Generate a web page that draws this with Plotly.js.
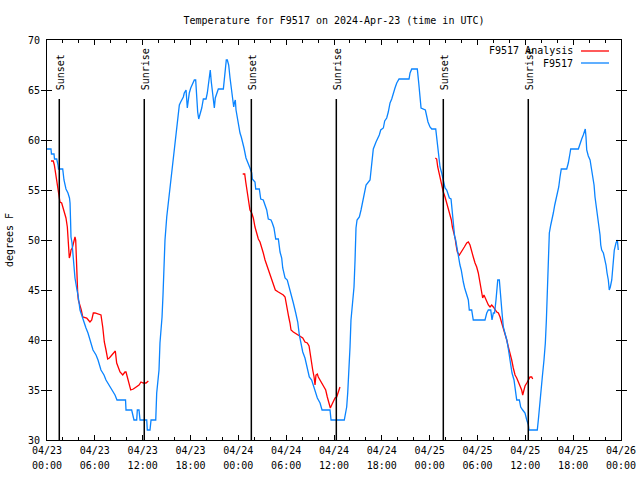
<!DOCTYPE html>
<html>
<head>
<meta charset="utf-8">
<script src="https://cdn.plot.ly/plotly-3.0.1.min.js"></script>
<style>html,body{margin:0;padding:0;background:#fff;}#chart{width:640px;height:480px;}</style>
</head>
<body>
<div id="chart"></div>
<script>
// Hours since 2024-04-23 00:00 UTC
const stationHours = [0,0.50,0.56,0.88,0.94,1.22,1.38,1.44,1.97,2.13,2.38,2.63,2.82,2.89,2.95,3.01,3.14,3.26,3.39,3.51,3.76,3.89,4.14,4.52,4.89,5.14,5.39,5.77,6.15,6.40,6.77,7.15,7.40,7.78,8.15,8.53,8.78,9.85,9.91,10.62,10.91,11.25,11.33,11.54,11.67,12.51,12.58,12.92,13.05,13.64,13.76,14.05,14.17,14.30,14.43,14.55,14.64,14.80,15.02,15.22,15.43,15.77,15.93,16.14,16.31,16.47,16.60,16.77,16.97,17.10,17.22,17.44,17.60,17.72,17.85,18.03,18.28,18.48,18.65,18.78,18.90,19.03,19.19,19.41,19.61,19.95,20.11,20.23,20.36,20.48,20.61,20.74,20.86,20.99,21.11,21.29,21.49,22.12,22.24,22.37,22.49,22.62,22.79,22.96,23.12,23.29,23.42,23.50,23.62,23.71,23.87,24.05,24.21,24.37,24.55,24.71,24.96,25.25,25.46,25.68,25.75,26.09,26.18,26.63,26.81,27.13,27.35,27.56,27.76,28.10,28.26,28.47,28.69,29.02,29.23,29.44,29.57,29.86,30.14,30.39,30.61,30.90,31.20,31.45,31.65,31.82,32.08,32.36,32.65,32.90,33.20,33.62,33.91,34.25,34.50,35.50,35.63,37.29,37.47,37.59,37.72,37.88,38.01,38.13,38.35,38.51,38.64,38.76,38.89,39.18,39.39,39.64,40.02,40.52,40.81,40.93,41.27,41.48,41.68,41.86,42.19,42.36,42.61,42.81,43.03,43.24,43.44,43.65,43.87,44.16,45.41,45.54,45.75,46.45,46.63,46.79,46.92,47.46,47.63,47.79,48.04,48.26,48.76,48.88,49.01,49.14,49.30,49.51,49.71,49.93,50.14,50.34,50.47,50.68,50.80,50.96,51.14,51.26,51.39,51.51,51.64,51.80,51.96,52.09,52.22,52.39,52.56,52.72,52.85,52.97,53.27,53.47,54.94,55.16,55.36,55.66,55.82,55.99,56.14,56.32,56.45,56.54,56.74,56.91,57.08,57.24,57.45,57.67,57.83,57.99,58.17,58.33,58.58,58.83,58.92,59.25,59.42,59.67,59.96,60.18,60.38,60.46,61.50,61.63,61.76,61.97,62.13,62.34,62.51,62.64,62.76,62.81,62.94,63.01,63.19,63.35,63.51,63.69,63.85,64.01,64.19,64.35,64.51,65.19,65.39,65.61,65.69,66.65,66.86,67.07,67.27,67.40,67.52,67.61,67.70,67.90,68.12,68.28,68.46,68.62,68.74,68.87,68.99,69.12,69.24,69.37,69.46,69.58,69.79,69.96,70.12,70.25,70.41,70.53,70.66,70.84,71.00,71.16,71.37,71.54,71.66];
const stationTemp = [59.1,59.1,58.6,58.6,58.1,58.1,57.5,57.1,57.1,56,55.1,54.7,54.2,53.7,52.1,50.3,49.7,48.5,47.5,46.2,45,44.5,43,42,41.2,40.7,40,39,38.5,38,37,36.5,36,35.5,35,34.5,34,34,33,33,32,32,33,33,32,32,31,31,32,32,34.7,37,39.7,41,42.3,44.5,46.7,50,52.3,53.7,55.7,57.5,58.7,60.7,61.7,62.7,63.5,63.8,64.1,64.3,64.7,65,63.2,64,64.7,65.2,65.7,66,66,64.2,62.8,62.1,62.5,63.2,64.1,64.1,64.7,65.7,66.5,67,65.8,65,63.8,63.2,64.2,64.7,65.1,65.1,66,66.7,68,68,67.5,66.2,65,64,63.3,63.7,64,63,62.2,61.2,60.7,60.3,59.8,59.2,58.2,57.7,57.2,56.7,56.1,55.8,55.1,55.1,54.1,54,53.5,53,52.1,52,51.7,51.2,50.1,50.1,48.8,48.2,47.2,46.2,46,45.3,44.7,43.7,42.7,41.8,40.5,39.7,38.8,38.2,37.3,36.3,36,35,34.2,33.7,33,33,32,32,32.7,33.3,34.7,36.7,39.3,42,44,45.3,48,51.2,52,52.3,53,54,55.5,56,58.2,59.1,59.8,60.1,60.5,61,61.2,61.9,62.2,62.8,63.7,64.1,64.7,65.2,65.7,66.1,66.1,66.7,67.1,67.1,65.7,63.8,63.2,63,62.3,61.8,61.3,61.1,61.1,60.3,59.5,58.4,57.3,56.7,56,55.2,55,54.5,54.2,54.1,53,51.3,50.3,50,49.3,48.7,48.2,47.5,47,46.3,45.8,45.2,44.7,44.2,44,43,43,42,42,42.7,43,43,42,42.7,42.7,44,45.3,46,46,44.7,42.7,41.3,40.7,40,39.3,38.3,37.3,36.7,36,34.7,34,34,33.3,33,32.7,32,31.5,31,31,32,33.3,35,36.3,38,39.7,42,44.5,47.3,49.5,50.7,51.5,52,52.7,53.5,54,54.5,55.3,56.3,57.1,57.1,57.7,58.7,59.1,59.1,59.7,60.1,60.5,60.8,61.1,60.3,59,58.4,58,57.2,56.3,55.5,54.3,53.5,52.5,52,51.5,50.5,49.5,49,48.7,48.2,47.5,46.7,46,45,45.3,46,47.3,49,49.7,50,49];

const analysisHours1 = [0.50,0.79,0.92,1.04,1.17,1.34,1.47,1.63,1.84,2.04,2.22,2.38,2.55,2.67,2.80,2.92,3.01,3.17,3.35,3.51,3.60,3.73,3.85,3.93,4.05,4.30,4.48,4.98,5.18,5.39,5.61,5.81,6.02,6.31,6.77,6.99,7.19,7.40,7.61,7.82,8.12,8.40,8.57,8.74,8.94,9.16,9.50,9.78,9.91,10.12,10.29,10.50,10.83,11.25,11.54,11.79,12.08,12.42,12.71];
const analysisTemp1 = [57.9,57.9,57.5,56.8,56.2,55.3,54.2,53.8,53.7,53.2,52.7,52.2,51.3,49.2,48.2,48.5,49,49.2,49.8,50.3,50,46.3,44.7,44,43.7,43,42.3,42.2,42,41.8,42,42.7,42.7,42.6,42.5,41.3,39.8,39,38.1,38.2,38.5,38.8,38.9,37.7,37.2,36.8,36.5,36.8,36.8,36.2,35.5,35,35.1,35.3,35.5,35.8,35.7,35.7,35.9];
const analysisHours2 = [24.55,24.80,24.93,25.05,25.18,25.30,25.46,25.68,25.88,26.09,26.31,26.51,26.72,26.93,27.13,27.35,27.56,27.76,27.97,28.19,28.39,28.64,29.02,29.23,29.64,29.86,29.98,30.14,30.32,30.48,30.61,30.90,31.32,31.74,32.08,32.36,32.65,32.87,32.99,33.20,33.33,33.50,33.62,33.74,33.91,34.03,34.25,34.46,34.75,34.96,35.16,35.37,35.54,35.71,35.91,36.13,36.34,36.54,36.75];
const analysisTemp2 = [56.6,56.6,55.8,55.2,54.5,53.8,53,52.7,52.2,51.3,50.7,50.1,49.8,49.3,48.7,48,47.5,47.2,46.7,46,45.5,45,44.8,44.7,44.5,44.3,43.7,43,42.3,41.7,41,40.8,40.6,40.4,40.2,39.8,39.7,39.4,38.7,37.7,37,36.3,35.5,36.5,36.6,36.3,36,35.7,35.4,35,34.3,33.7,33.2,33.5,33.8,34.2,34.3,34.7,35.3];
const analysisHours3 = [48.71,48.88,49.01,49.17,49.39,49.55,49.71,49.93,50.14,50.34,50.55,50.72,50.85,51.02,51.19,51.31,51.47,51.72,51.90,52.10,52.35,52.65,52.85,53.06,53.27,53.47,53.69,53.90,54.10,54.31,54.52,54.65,54.81,54.98,55.16,55.36,55.57,55.78,55.99,56.21,56.42,56.62,56.83,57.04,57.24,57.45,57.67,57.87,58.08,58.29,58.49,58.71,58.92,59.12,59.33,59.54,59.67,59.80,59.96,60.18,60.38,60.59,60.80,60.92];
const analysisTemp3 = [58.2,58.1,57.3,56.7,56,55.3,54.8,54.3,53.7,53,52.5,52,51.3,50.8,50.2,49.5,48.8,48.5,48.7,49,49.3,49.7,49.8,49.5,49,48.3,47.7,47.3,46.7,45.8,44.7,44.2,44.5,44.2,43.8,43.5,43.3,43.5,43.3,43,42.8,42.7,42.3,41.7,41.2,40.5,40,39.3,38.7,38,37.2,36.5,36.2,35.8,35.4,35,34.5,35,35.4,35.7,36,36.3,36.3,36.1];

const sunHours = [1.54, 12.20, 25.63, 36.29, 49.71, 60.37];
const sunLabels = ["Sunset", "Sunrise", "Sunset", "Sunrise", "Sunset", "Sunrise"];
const seriesNames = ["F9517 Analysis", "F9517"];

const BASE = Date.UTC(2024, 3, 23, 0, 0, 0);
const toMs = h => BASE + h * 3600000;

const aX = [].concat(analysisHours1.map(toMs), [null], analysisHours2.map(toMs), [null], analysisHours3.map(toMs));
const aY = [].concat(analysisTemp1, [null], analysisTemp2, [null], analysisTemp3);

const FONT = "DejaVu Sans Mono, monospace";
const RED = "#ff0000", BLUE = "#0a84ff";

const traces = [
  {x: aX, y: aY, type: "scatter", mode: "lines", name: seriesNames[0], line: {color: RED, width: 1.3}, connectgaps: false, hoverinfo: "skip"},
  {x: stationHours.map(toMs), y: stationTemp, xaxis: "x2", yaxis: "y", type: "scatter", mode: "lines", name: seriesNames[1], line: {color: BLUE, width: 1.3}, hoverinfo: "skip"}
];

const shapes = sunHours.map(h => ({type: "line", xref: "x", yref: "y", x0: toMs(h), x1: toMs(h), y0: 30, y1: 64.1, line: {color: "#000", width: 1.5}}));
const annotations = sunHours.map((h, i) => ({x: toMs(h), y: 64.8, xref: "x", yref: "y", text: sunLabels[i], textangle: -90, showarrow: false, xanchor: "center", yanchor: "bottom", xshift: 1, font: {family: FONT, size: 10, color: "#000"}}));

// gnuplot-style legend: text then sample line
const legendRows = [0.9725, 0.9425];
[RED, BLUE].forEach((c, i) => {
  annotations.push({xref: "paper", yref: "paper", x: 0.9199, y: legendRows[i], text: seriesNames[i], showarrow: false, xanchor: "right", yanchor: "middle", font: {family: FONT, size: 10, color: "#000"}});
  shapes.push({type: "line", xref: "paper", yref: "paper", x0: 0.9303, x1: 0.9791, y0: legendRows[i], y1: legendRows[i], line: {color: c, width: 1.3}});
});

const xRange = [toMs(0), toMs(72)];
const tickFont = {family: FONT, size: 10, color: "#000"};

const layout = {
  width: 640, height: 480,
  margin: {l: 47, r: 19, t: 40, b: 40, pad: 0},
  paper_bgcolor: "#fff", plot_bgcolor: "#fff",
  font: {family: FONT, size: 10, color: "#000"},
  showlegend: false,
  title: {text: "Temperature for F9517 on 2024-Apr-23 (time in UTC)", x: 0.5, xref: "paper", xanchor: "center", y: 0.958, yref: "container", yanchor: "middle", font: {family: FONT, size: 10, color: "#000"}},
  xaxis: {
    type: "date", range: xRange, autorange: false,
    dtick: 21600000, tick0: toMs(0), tickformat: "%m/%d",
    ticks: "inside", ticklen: 5, tickcolor: "#000", tickwidth: 1, ticklabelstandoff: 1,
    minor: {dtick: 7200000, ticks: "inside", ticklen: 3, tickcolor: "#000", showgrid: false},
    showline: true, linecolor: "#000", linewidth: 1, mirror: "allticks",
    showgrid: false, zeroline: false, automargin: false,
    tickfont: tickFont
  },
  xaxis2: {
    type: "date", range: xRange, autorange: false, overlaying: "x", anchor: "y", side: "bottom",
    dtick: 21600000, tick0: toMs(0), tickformat: "%H:%M",
    ticks: "", showline: false, showgrid: false, zeroline: false, automargin: false,
    ticklabelstandoff: 18, tickfont: tickFont
  },
  yaxis: {
    range: [30, 70], autorange: false, dtick: 5, tick0: 30,
    ticks: "inside", ticklen: 5, tickcolor: "#000", tickwidth: 1,
    showline: true, linecolor: "#000", linewidth: 1, mirror: "allticks",
    showgrid: false, zeroline: false, automargin: false, ticklabelstandoff: 4,
    tickfont: tickFont,
    title: {text: "degrees F", standoff: 12, font: {family: FONT, size: 10, color: "#000"}}
  },
  shapes: shapes,
  annotations: annotations
};

Plotly.newPlot("chart", traces, layout, {staticPlot: true, displayModeBar: false});
</script>
</body>
</html>
